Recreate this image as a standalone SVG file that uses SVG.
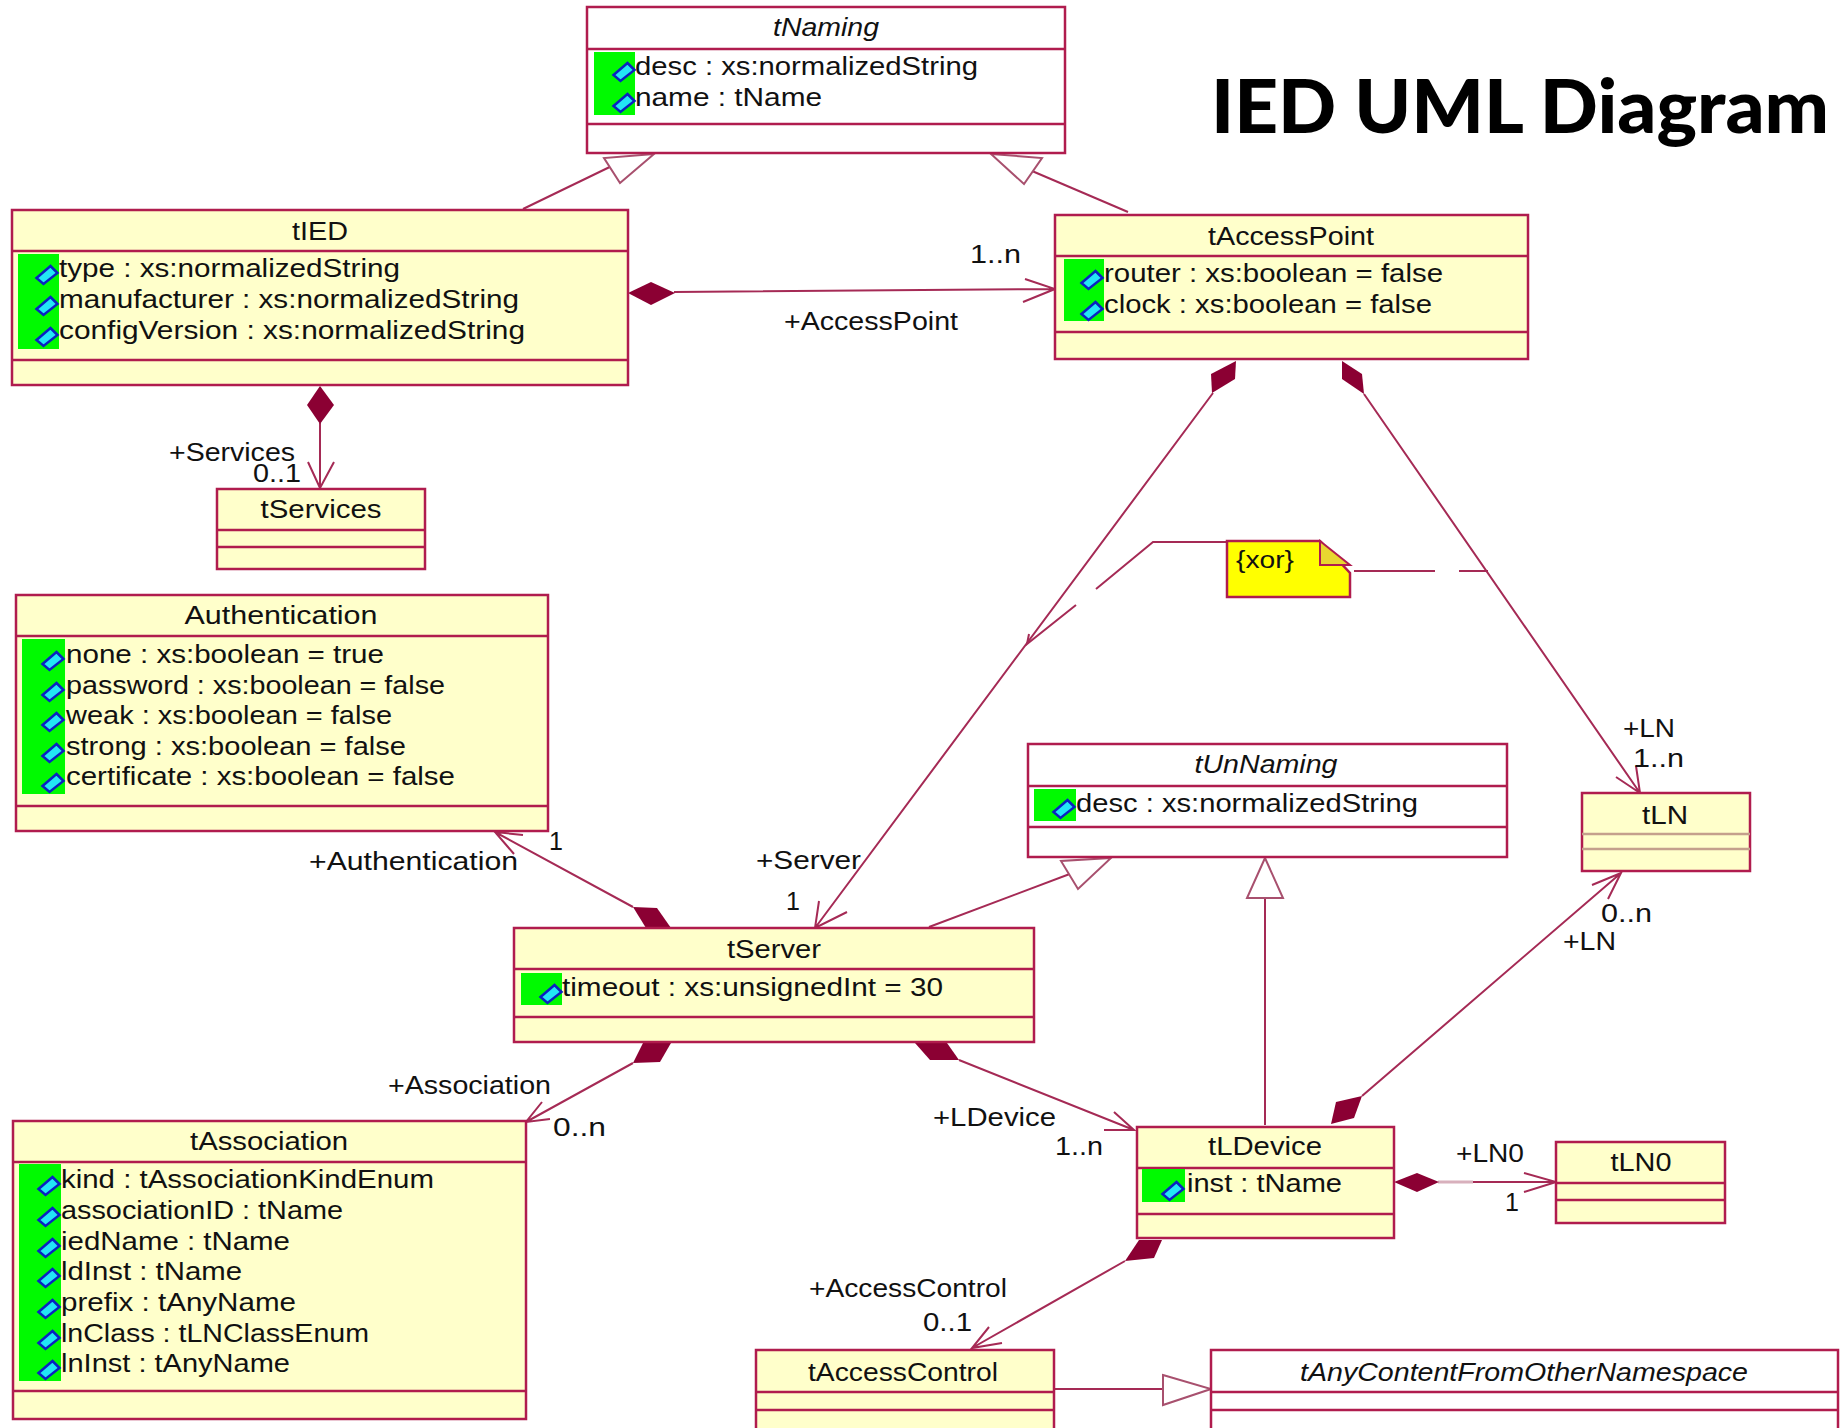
<svg xmlns="http://www.w3.org/2000/svg" width="1844" height="1428" viewBox="0 0 1844 1428">
<style>
text{font-family:"Liberation Sans",Arial,sans-serif;font-size:25px;fill:#111;transform:translateY(1px)}
.m{text-anchor:middle}
.i{font-style:italic}
.c{fill:#ffffcb;stroke:#b01c4e;stroke-width:2.5}
.w{fill:#fff;stroke:#b01c4e;stroke-width:2.5}
.d{stroke:#b01c4e;stroke-width:2.5;fill:none}
.t{stroke:#c4a08c;stroke-width:2.5;fill:none}
.g{fill:#00fa00}
.ln{stroke:#a52a55;stroke-width:2;fill:none}
.pale{stroke:#d8b0bc;stroke-width:3;fill:none}
.tri{fill:#fff;stroke:#a8506e;stroke-width:2}
.dia{fill:#8b0033;stroke:none}
.ic{fill:#22e6f5;stroke:#0a22c0;stroke-width:2.500}
text.title{font-family:Lato,"Open Sans","Liberation Sans",sans-serif;font-weight:900;font-size:75px;fill:#000;transform:none}
</style>
<defs>
<path id="ic" class="ic" d="M-10.500 3L3.500-9L10.500-2L-3.500 9Z"/>
</defs>
<rect width="1844" height="1428" fill="#fff"/>
<text class="title" x="1211" y="133" textLength="618" lengthAdjust="spacingAndGlyphs">IED UML Diagram</text>

<g id="connectors">
<path class="ln" d="M523 209L620 162"/>
<path class="tri" d="M654 154L604 158L620 183Z"/>
<path class="ln" d="M1128 212L1025 168"/>
<path class="tri" d="M991 154L1042 158L1024 184Z"/>
<path class="ln" d="M674 292L1054 289M1025 279L1055 289L1023 302"/>
<path class="dia" d="M628 293L651 282L675 293L651 305Z"/>
<path class="ln" d="M320 423V488M308 462L320 488L334 462"/>
<path class="dia" d="M320 386L334 405L320 424L307 405Z"/>
<path class="ln" d="M1213 393L815 928M819 901L815 928L847 912"/>
<path class="dia" d="M1236 361L1211 374L1212 393L1235 379Z"/>
<path class="ln" d="M1364 394L1640 793M1616 777L1640 793L1636 766"/>
<path class="dia" d="M1342 361L1362 374L1364 394L1342 379Z"/>
<path class="ln" d="M1226 542H1153L1096 589M1076 605L1027 644L1029 634M1354 571H1435M1459 571H1488"/>
<path class="ln" d="M929 927L1075 872"/>
<path class="tri" d="M1111 858L1061 861L1078 889Z"/>
<path class="ln" d="M1265 1125V898"/>
<path class="tri" d="M1265 858L1247 898H1283Z"/>
<path class="ln" d="M1362 1096L1621 873M1592 885L1621 873L1608 899"/>
<path class="dia" d="M1331 1124L1336 1102L1362 1096L1354 1118Z"/>
<path class="ln" d="M633 907L495 832M523 835L495 832L514 854"/>
<path class="dia" d="M633 907L657 908L671 928H646Z"/>
<path class="ln" d="M633 1063L526 1122M542 1102L526 1122L550 1119"/>
<path class="dia" d="M671 1043H643L633 1063L660 1062Z"/>
<path class="ln" d="M959 1060L1134 1130M1114 1112L1134 1130L1104 1130"/>
<path class="dia" d="M915 1043H947L959 1060H930Z"/>
<path class="pale" d="M1438 1182H1473"/>
<path class="ln" d="M1473 1182H1555M1524 1173L1556 1182L1524 1192"/>
<path class="dia" d="M1394 1182L1417 1173L1439 1182L1417 1192Z"/>
<path class="ln" d="M1125 1261L972 1348M989 1327L972 1348L1002 1343"/>
<path class="dia" d="M1139 1240H1162L1154 1258L1125 1261Z"/>
<path class="ln" d="M1050 1389H1163"/>
<path class="tri" d="M1163 1375L1211 1389L1163 1405Z"/>

<text x="970" y="262" textLength="51" lengthAdjust="spacingAndGlyphs">1..n</text>
<text x="784" y="329" textLength="174" lengthAdjust="spacingAndGlyphs">+AccessPoint</text>
<text x="169" y="460" textLength="126" lengthAdjust="spacingAndGlyphs">+Services</text>
<text x="253" y="481" textLength="48" lengthAdjust="spacingAndGlyphs">0..1</text>
<text x="1623" y="736" textLength="52" lengthAdjust="spacingAndGlyphs">+LN</text>
<text x="1633" y="766" textLength="51" lengthAdjust="spacingAndGlyphs">1..n</text>
<text x="549" y="849">1</text>
<text x="309" y="869" textLength="209" lengthAdjust="spacingAndGlyphs">+Authentication</text>
<text x="756" y="868" textLength="105" lengthAdjust="spacingAndGlyphs">+Server</text>
<text x="786" y="909">1</text>
<text x="1601" y="921" textLength="51" lengthAdjust="spacingAndGlyphs">0..n</text>
<text x="1563" y="949" textLength="53" lengthAdjust="spacingAndGlyphs">+LN</text>
<text x="388" y="1093" textLength="163" lengthAdjust="spacingAndGlyphs">+Association</text>
<text x="553" y="1135" textLength="53" lengthAdjust="spacingAndGlyphs">0..n</text>
<text x="933" y="1125" textLength="123" lengthAdjust="spacingAndGlyphs">+LDevice</text>
<text x="1055" y="1154" textLength="48" lengthAdjust="spacingAndGlyphs">1..n</text>
<text x="1456" y="1161" textLength="68" lengthAdjust="spacingAndGlyphs">+LN0</text>
<text x="1505" y="1210">1</text>
<text x="809" y="1296" textLength="198" lengthAdjust="spacingAndGlyphs">+AccessControl</text>
<text x="923" y="1330" textLength="49" lengthAdjust="spacingAndGlyphs">0..1</text>
</g>

<g id="tNaming">
<rect class="w" x="587" y="7" width="478" height="146"/><path class="d" d="M587 49H1065M587 124H1065"/>
<text class="m i" x="826" y="35" textLength="106" lengthAdjust="spacingAndGlyphs">tNaming</text>
<rect class="g" x="594" y="52" width="41" height="63"/>
<use href="#ic" x="624" y="72"/><use href="#ic" x="624" y="103"/>
<text x="635" y="74" textLength="343" lengthAdjust="spacingAndGlyphs">desc : xs:normalizedString</text>
<text x="635" y="105" textLength="187" lengthAdjust="spacingAndGlyphs">name : tName</text>
</g>

<g id="tIED">
<rect class="c" x="12" y="210" width="616" height="175"/><path class="d" d="M12 251H628M12 360H628"/>
<text class="m" x="320" y="239" textLength="56" lengthAdjust="spacingAndGlyphs">tIED</text>
<rect class="g" x="18" y="254" width="41" height="95"/>
<use href="#ic" x="47" y="275"/><use href="#ic" x="47" y="306"/><use href="#ic" x="47" y="337"/>
<text x="59" y="276" textLength="341" lengthAdjust="spacingAndGlyphs">type : xs:normalizedString</text>
<text x="59" y="307" textLength="460" lengthAdjust="spacingAndGlyphs">manufacturer : xs:normalizedString</text>
<text x="59" y="338" textLength="466" lengthAdjust="spacingAndGlyphs">configVersion : xs:normalizedString</text>
</g>

<g id="tAccessPoint">
<rect class="c" x="1055" y="215" width="473" height="144"/><path class="d" d="M1055 256H1528M1055 332H1528"/>
<text class="m" x="1291" y="244" textLength="166" lengthAdjust="spacingAndGlyphs">tAccessPoint</text>
<rect class="g" x="1064" y="259" width="40" height="62"/>
<use href="#ic" x="1092" y="280"/><use href="#ic" x="1092" y="311"/>
<text x="1104" y="281" textLength="339" lengthAdjust="spacingAndGlyphs">router : xs:boolean = false</text>
<text x="1104" y="312" textLength="328" lengthAdjust="spacingAndGlyphs">clock : xs:boolean = false</text>
</g>

<g id="tServices">
<rect class="c" x="217" y="489" width="208" height="80"/><path class="d" d="M217 530H425M217 547H425"/>
<text class="m" x="321" y="517" textLength="121" lengthAdjust="spacingAndGlyphs">tServices</text>
</g>

<g id="Authentication">
<rect class="c" x="16" y="595" width="532" height="236"/><path class="d" d="M16 636H548M16 806H548"/>
<text class="m" x="281" y="623" textLength="193" lengthAdjust="spacingAndGlyphs">Authentication</text>
<rect class="g" x="22" y="639" width="43" height="155"/>
<use href="#ic" x="53" y="661"/><use href="#ic" x="53" y="692"/><use href="#ic" x="53" y="722"/><use href="#ic" x="53" y="753"/><use href="#ic" x="53" y="783"/>
<text x="66" y="662" textLength="318" lengthAdjust="spacingAndGlyphs">none : xs:boolean = true</text>
<text x="66" y="693" textLength="379" lengthAdjust="spacingAndGlyphs">password : xs:boolean = false</text>
<text x="66" y="723" textLength="326" lengthAdjust="spacingAndGlyphs">weak : xs:boolean = false</text>
<text x="66" y="754" textLength="340" lengthAdjust="spacingAndGlyphs">strong : xs:boolean = false</text>
<text x="66" y="784" textLength="389" lengthAdjust="spacingAndGlyphs">certificate : xs:boolean = false</text>
</g>

<g id="xorNote">
<path d="M1227 541H1320L1350 573V597H1227Z" fill="#ffff00" stroke="#b01c4e" stroke-width="2.5"/>
<path d="M1320 541V565H1350Z" fill="#e8d830" stroke="#b01c4e" stroke-width="2"/>
<text x="1236" y="567" textLength="58" lengthAdjust="spacingAndGlyphs" style="font-size:23px">{xor}</text>
</g>

<g id="tUnNaming">
<rect class="w" x="1028" y="744" width="479" height="113"/><path class="d" d="M1028 786H1507M1028 827H1507"/>
<text class="m i" x="1266" y="772" textLength="143" lengthAdjust="spacingAndGlyphs">tUnNaming</text>
<rect class="g" x="1034" y="789" width="42" height="32"/>
<use href="#ic" x="1064" y="809"/>
<text x="1076" y="811" textLength="342" lengthAdjust="spacingAndGlyphs">desc : xs:normalizedString</text>
</g>

<g id="tLN">
<rect class="c" x="1582" y="793" width="168" height="78"/><path class="t" d="M1582 834H1750M1582 849H1750"/>
<text class="m" x="1665" y="823" textLength="46" lengthAdjust="spacingAndGlyphs">tLN</text>
</g>

<g id="tServer">
<rect class="c" x="514" y="928" width="520" height="114"/><path class="d" d="M514 969H1034M514 1017H1034"/>
<text class="m" x="774" y="957" textLength="94" lengthAdjust="spacingAndGlyphs">tServer</text>
<rect class="g" x="521" y="973" width="41" height="32"/>
<use href="#ic" x="551" y="994"/>
<text x="562" y="995" textLength="381" lengthAdjust="spacingAndGlyphs">timeout : xs:unsignedInt = 30</text>
</g>

<g id="tAssociation">
<rect class="c" x="13" y="1121" width="513" height="298"/><path class="d" d="M13 1162H526M13 1391H526"/>
<text class="m" x="269" y="1149" textLength="158" lengthAdjust="spacingAndGlyphs">tAssociation</text>
<rect class="g" x="19" y="1164" width="42" height="217"/>
<use href="#ic" x="49" y="1186"/><use href="#ic" x="49" y="1217"/><use href="#ic" x="49" y="1248"/><use href="#ic" x="49" y="1278"/><use href="#ic" x="49" y="1309"/><use href="#ic" x="49" y="1340"/><use href="#ic" x="49" y="1370"/>
<text x="61" y="1187" textLength="373" lengthAdjust="spacingAndGlyphs">kind : tAssociationKindEnum</text>
<text x="61" y="1218" textLength="282" lengthAdjust="spacingAndGlyphs">associationID : tName</text>
<text x="61" y="1249" textLength="229" lengthAdjust="spacingAndGlyphs">iedName : tName</text>
<text x="61" y="1279" textLength="181" lengthAdjust="spacingAndGlyphs">ldInst : tName</text>
<text x="61" y="1310" textLength="235" lengthAdjust="spacingAndGlyphs">prefix : tAnyName</text>
<text x="61" y="1341" textLength="308" lengthAdjust="spacingAndGlyphs">lnClass : tLNClassEnum</text>
<text x="61" y="1371" textLength="229" lengthAdjust="spacingAndGlyphs">lnInst : tAnyName</text>
</g>

<g id="tLDevice">
<rect class="c" x="1137" y="1127" width="257" height="111"/><path class="d" d="M1137 1168H1394M1137 1214H1394"/>
<text class="m" x="1265" y="1154" textLength="114" lengthAdjust="spacingAndGlyphs">tLDevice</text>
<rect class="g" x="1142" y="1169" width="43" height="33"/>
<use href="#ic" x="1173" y="1191"/>
<text x="1187" y="1191" textLength="155" lengthAdjust="spacingAndGlyphs">inst : tName</text>
</g>

<g id="tLN0">
<rect class="c" x="1556" y="1142" width="169" height="81"/><path class="d" d="M1556 1183H1725M1556 1200H1725"/>
<text class="m" x="1641" y="1170" textLength="61" lengthAdjust="spacingAndGlyphs">tLN0</text>
</g>

<g id="tAccessControl">
<rect class="c" x="756" y="1350" width="298" height="90"/><path class="d" d="M756 1392H1054M756 1410H1054"/>
<text class="m" x="903" y="1380" textLength="190" lengthAdjust="spacingAndGlyphs">tAccessControl</text>
</g>

<g id="tAnyContentFromOtherNamespace">
<rect class="w" x="1211" y="1350" width="627" height="90"/><path class="d" d="M1211 1392H1838M1211 1410H1838"/>
<text class="m i" x="1524" y="1380" textLength="448" lengthAdjust="spacingAndGlyphs">tAnyContentFromOtherNamespace</text>
</g>
</svg>
